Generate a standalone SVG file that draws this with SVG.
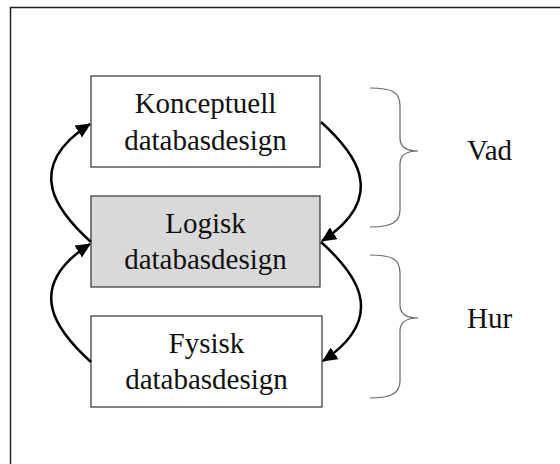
<svg xmlns="http://www.w3.org/2000/svg" width="560" height="464" viewBox="0 0 560 464">
<style>
.box{stroke:#333;stroke-width:1.2}
.lbl{font-family:"Liberation Serif","Times New Roman",serif;font-size:29px;fill:#111;text-anchor:middle}
.side{font-family:"Liberation Serif","Times New Roman",serif;font-size:29px;fill:#111}
.brace{fill:none;stroke:#666;stroke-width:1.2}
.arr{fill:none;stroke:#000;stroke-width:2.5;marker-end:url(#ah)}
</style>
<defs>
<marker id="ah" viewBox="0 0 15 14" refX="14" refY="7" markerWidth="6" markerHeight="5.6" markerUnits="strokeWidth" orient="auto">
<path d="M0,0 L15,7 L0,14 z" fill="#000"/>
</marker>
</defs>
<rect x="0" y="0" width="560" height="464" fill="#fff"/>
<rect x="10.5" y="7.5" width="600" height="600" fill="none" stroke="#222" stroke-width="1.5"/>
<g id="konceptuell">
<rect class="box" x="91" y="76" width="229" height="91" fill="#fff"/>
<text class="lbl" x="205.5" y="113">Konceptuell</text>
<text class="lbl" x="205.5" y="150">databasdesign</text>
</g>
<g id="logisk">
<rect class="box" x="91" y="196" width="229" height="91" fill="#d9d9d9"/>
<text class="lbl" x="205.5" y="233">Logisk</text>
<text class="lbl" x="205.5" y="269">databasdesign</text>
</g>
<g id="fysisk">
<rect class="box" x="91" y="316" width="231" height="91" fill="#fff"/>
<text class="lbl" x="206.5" y="353">Fysisk</text>
<text class="lbl" x="206.5" y="389">databasdesign</text>
</g>
<g id="connectors">
<path class="arr" d="M321,122 C352,150 392,195 322,241"/>
<path class="arr" d="M321,242 C352,270 392,315 323,361"/>
<path class="arr" d="M91,242 C60,214 20,169 90,124"/>
<path class="arr" d="M91,362 C60,334 20,289 90,244"/>
</g>
<g id="brace-vad">
<path class="brace" d="M370,88 C392,88 400,92 400,106 L400,138 C400,146 406,151 418,151 C406,151 400,156 400,164 L400,210 C400,222 392,227 370,227"/>
<text class="side" x="467" y="160">Vad</text>
</g>
<g id="brace-hur">
<path class="brace" d="M370,255 C392,255 400,259 400,273 L400,305 C400,313 406,318 418,318 C406,318 400,323 400,331 L400,381 C400,393 392,398 370,398"/>
<text class="side" x="467" y="328">Hur</text>
</g>
</svg>
